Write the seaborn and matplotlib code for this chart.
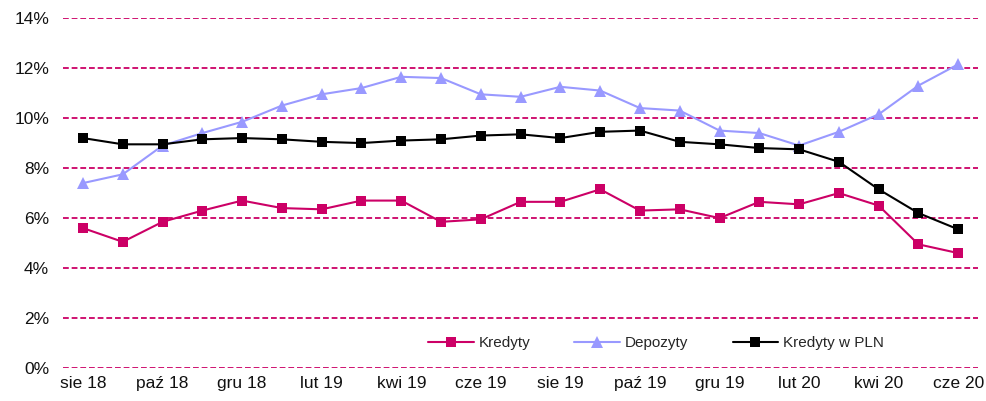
import numpy as np
import pandas as pd
import seaborn as sns
import matplotlib.pyplot as plt
from matplotlib.ticker import FuncFormatter

months = ["sie 18", "wrz 18", "paź 18", "lis 18", "gru 18", "sty 19", "lut 19", "mar 19",
          "kwi 19", "maj 19", "cze 19", "lip 19", "sie 19", "wrz 19", "paź 19", "lis 19",
          "gru 19", "sty 20", "lut 20", "mar 20", "kwi 20", "maj 20", "cze 20"]

kredyty = [5.6, 5.05, 5.85, 6.3, 6.7, 6.4, 6.35, 6.7, 6.7, 5.85, 5.95, 6.65,
           6.65, 7.15, 6.3, 6.35, 6.0, 6.65, 6.55, 7.0, 6.5, 4.95, 4.6]
depozyty = [7.4, 7.75, 8.9, 9.4, 9.85, 10.5, 10.95, 11.2, 11.65, 11.6, 10.95, 10.85,
            11.25, 11.1, 10.4, 10.3, 9.5, 9.4, 8.9, 9.45, 10.15, 11.3, 12.15]
kredyty_pln = [9.2, 8.95, 8.95, 9.15, 9.2, 9.15, 9.05, 9.0, 9.1, 9.15, 9.3, 9.35,
               9.2, 9.45, 9.5, 9.05, 8.95, 8.8, 8.75, 8.25, 7.15, 6.2, 5.55]

magenta = "#CC0066"
blue = "#9999FF"

df = pd.DataFrame({"x": np.arange(len(months)), "Kredyty": kredyty,
                   "Depozyty": depozyty, "Kredyty w PLN": kredyty_pln})

sns.set_style("white")
plt.rcParams["font.family"] = ["Liberation Sans", "DejaVu Sans"]

fig = plt.figure(figsize=(9.86, 4.01), dpi=100)
ax = fig.add_axes([0.064, 0.082, 0.928, 0.873])

# przerywane linie siatki
for y in range(0, 15, 2):
    ax.axhline(y, color=magenta, lw=1.3, ls=(0, (3.2, 1.6)), zorder=0)

sns.lineplot(data=df, x="x", y="Kredyty", ax=ax, color=magenta, marker="s",
             markersize=7, markeredgewidth=0, lw=1.5, label="Kredyty")
sns.lineplot(data=df, x="x", y="Depozyty", ax=ax, color=blue, marker="^",
             markersize=8, markeredgewidth=0, lw=1.5, label="Depozyty")
sns.lineplot(data=df, x="x", y="Kredyty w PLN", ax=ax, color="black", marker="s",
             markersize=7, markeredgewidth=0, lw=1.5, label="Kredyty w PLN")

ax.set_xlim(-0.5, 22.5)
ax.set_ylim(0, 14)
ax.set_yticks(range(0, 15, 2))
ax.yaxis.set_major_formatter(FuncFormatter(lambda v, p: f"{v:.0f}%"))
ax.set_xticks(df["x"][::2])
ax.set_xticklabels(months[::2])
ax.tick_params(axis="both", labelsize=12.5, length=0, colors="#111111")
ax.tick_params(axis="y", pad=10)
ax.tick_params(axis="x", pad=6)
ax.set_xlabel("")
ax.set_ylabel("")
for s in ax.spines.values():
    s.set_visible(False)

ax.legend(loc="center right", bbox_to_anchor=(0.897, 0.071), ncol=3, frameon=False,
          fontsize=11, handlelength=3.0, columnspacing=2.9, handletextpad=0.3,
          borderaxespad=0, borderpad=0)

fig.savefig("out.png", dpi=100)
